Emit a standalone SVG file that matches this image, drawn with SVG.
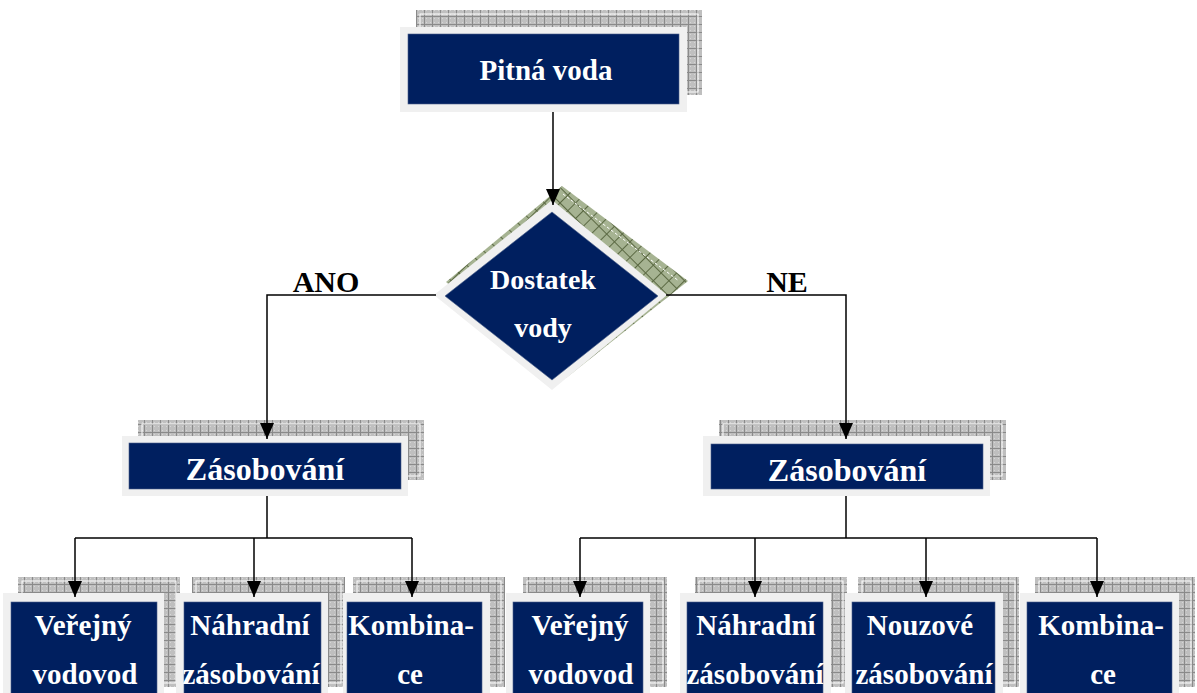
<svg xmlns="http://www.w3.org/2000/svg" width="1197" height="693" viewBox="0 0 1197 693">
<defs>
<pattern id="grid" width="8" height="8" patternUnits="userSpaceOnUse">
<rect width="8" height="8" fill="#bfbfbf"/>
<path d="M2,2h1v1h-1zM6,6h1v1h-1zM6,2h1v1h-1zM2,6h1v1h-1z" fill="#d6d6d6"/>
<path d="M0,0.5H8M0.5,0V8" stroke="#8a8a8a" stroke-width="1" fill="none"/>
</pattern>
<pattern id="hatch" width="11" height="11" patternUnits="userSpaceOnUse" patternTransform="rotate(45)">
<rect width="11" height="11" fill="#a6b392"/>
<path d="M0,0.5H11M0.5,0V11" stroke="#5a6842" stroke-width="1" fill="none"/>
</pattern>
<marker id="arr" markerWidth="16" markerHeight="14" refX="16" refY="7" orient="auto" markerUnits="userSpaceOnUse">
<path d="M0,0 L16,7 L0,14 Z" fill="#000"/>
</marker>
</defs>
<style>
.sh{fill:url(#grid)}
.shl{fill:none;stroke:#fff;stroke-width:1}
.bd{fill:#f0f0f0}
.nv{fill:#001f5f;stroke:#4a5f8a;stroke-width:0.6}
.t{font-family:"Liberation Serif","Times New Roman",serif;font-weight:bold;fill:#fff;text-anchor:middle}
.lbl{font-family:"Liberation Serif","Times New Roman",serif;font-weight:bold;fill:#000;text-anchor:middle;font-size:30px}
.c{fill:none;stroke:#000;stroke-width:1.5}
</style>
<rect width="1197" height="693" fill="#fff"/>

<g id="pitna">
<rect class="sh" x="416" y="10" width="286" height="85"/>
<rect class="shl" x="420" y="14" width="278" height="78"/>
<rect class="bd" x="400" y="27" width="287" height="85"/>
<rect class="nv" x="408" y="34" width="271" height="70"/>
<text class="t" x="546" y="80" font-size="29">Pitná voda</text>
</g>

<g id="dostatek">
<polygon points="562,186 688,281 566,378 446,282" fill="url(#hatch)"/>
<polyline points="563,194 679,281" fill="none" stroke="#fff" stroke-width="1" stroke-dasharray="3,2"/>
<polygon class="bd" points="552,200 667,295 552,390 434,295"/>
<polygon class="nv" points="552,212 658,296 552,380 445,296"/>
<text class="t" x="543" y="289" font-size="28">Dostatek</text>
<text class="t" x="543" y="337" font-size="28">vody</text>
</g>

<g id="zas-ano">
<rect class="sh" x="138" y="420" width="286" height="60"/>
<rect class="shl" x="142" y="424" width="278" height="52"/>
<rect class="bd" x="122" y="436" width="286" height="60"/>
<rect class="nv" x="129" y="443" width="272" height="46"/>
<text class="t" x="265" y="480" font-size="32">Zásobování</text>
</g>

<g id="zas-ne">
<rect class="sh" x="719" y="420" width="287" height="60"/>
<rect class="shl" x="723" y="424" width="279" height="52"/>
<rect class="bd" x="703" y="436" width="287" height="60"/>
<rect class="nv" x="711" y="444" width="272" height="45"/>
<text class="t" x="847" y="481" font-size="32">Zásobování</text>
</g>

<g id="verejny-ano">
<rect class="sh" x="18" y="577" width="162" height="110"/>
<rect class="shl" x="22" y="581" width="154" height="102"/>
<rect class="bd" x="3" y="593" width="161" height="110"/>
<rect class="nv" x="11" y="602" width="146" height="100"/>
<text class="t" x="83" y="635" font-size="29">Veřejný</text>
<text class="t" x="85" y="684" font-size="29">vodovod</text>
</g>

<g id="nahradni-ano">
<rect class="sh" x="192" y="577" width="153" height="110"/>
<rect class="shl" x="196" y="581" width="145" height="102"/>
<rect class="bd" x="176" y="593" width="152" height="110"/>
<rect class="nv" x="184" y="602" width="137" height="100"/>
<text class="t" x="250" y="635" font-size="29">Náhradní</text>
<text class="t" x="251" y="684" font-size="29">zásobování</text>
</g>

<g id="kombinace-ano">
<rect class="sh" x="353" y="577" width="152" height="110"/>
<rect class="shl" x="357" y="581" width="144" height="102"/>
<rect class="bd" x="343" y="593" width="147" height="110"/>
<rect class="nv" x="347" y="602" width="135" height="100"/>
<text class="t" x="411" y="635" font-size="29">Kombina-</text>
<text class="t" x="410" y="684" font-size="29">ce</text>
</g>

<g id="verejny-ne">
<rect class="sh" x="523" y="577" width="144" height="110"/>
<rect class="shl" x="527" y="581" width="136" height="102"/>
<rect class="bd" x="506" y="593" width="144" height="110"/>
<rect class="nv" x="513" y="602" width="130" height="100"/>
<text class="t" x="580" y="635" font-size="29">Veřejný</text>
<text class="t" x="581" y="684" font-size="29">vodovod</text>
</g>

<g id="nahradni-ne">
<rect class="sh" x="695" y="577" width="152" height="110"/>
<rect class="shl" x="699" y="581" width="144" height="102"/>
<rect class="bd" x="680" y="593" width="151" height="110"/>
<rect class="nv" x="687" y="602" width="136" height="100"/>
<text class="t" x="756" y="635" font-size="29">Náhradní</text>
<text class="t" x="755" y="684" font-size="29">zásobování</text>
</g>

<g id="nouzove-ne">
<rect class="sh" x="858" y="577" width="161" height="110"/>
<rect class="shl" x="862" y="581" width="153" height="102"/>
<rect class="bd" x="845" y="593" width="158" height="110"/>
<rect class="nv" x="852" y="602" width="143" height="100"/>
<text class="t" x="920" y="635" font-size="29">Nouzové</text>
<text class="t" x="924" y="684" font-size="29">zásobování</text>
</g>

<g id="kombinace-ne">
<rect class="sh" x="1035" y="577" width="160" height="110"/>
<rect class="shl" x="1039" y="581" width="152" height="102"/>
<rect class="bd" x="1020" y="593" width="159" height="110"/>
<rect class="nv" x="1027" y="602" width="145" height="100"/>
<text class="t" x="1101" y="635" font-size="29">Kombina-</text>
<text class="t" x="1103" y="684" font-size="29">ce</text>
</g>

<g id="connectors">
<path class="c" d="M553,112 V205" marker-end="url(#arr)"/>
<path class="c" d="M436,295 H267 V439" marker-end="url(#arr)"/>
<path class="c" d="M666,295 H846 V439" marker-end="url(#arr)"/>
<path class="c" d="M267,496 V538"/>
<path class="c" d="M75,538 H412"/>
<path class="c" d="M75,538 V597" marker-end="url(#arr)"/>
<path class="c" d="M254,538 V597" marker-end="url(#arr)"/>
<path class="c" d="M412,538 V597" marker-end="url(#arr)"/>
<path class="c" d="M846,496 V538"/>
<path class="c" d="M580,538 H1097"/>
<path class="c" d="M580,538 V597" marker-end="url(#arr)"/>
<path class="c" d="M755,538 V597" marker-end="url(#arr)"/>
<path class="c" d="M926,538 V597" marker-end="url(#arr)"/>
<path class="c" d="M1097,538 V597" marker-end="url(#arr)"/>
<text class="lbl" x="326" y="292">ANO</text>
<text class="lbl" x="787" y="292">NE</text>
</g>
</svg>
